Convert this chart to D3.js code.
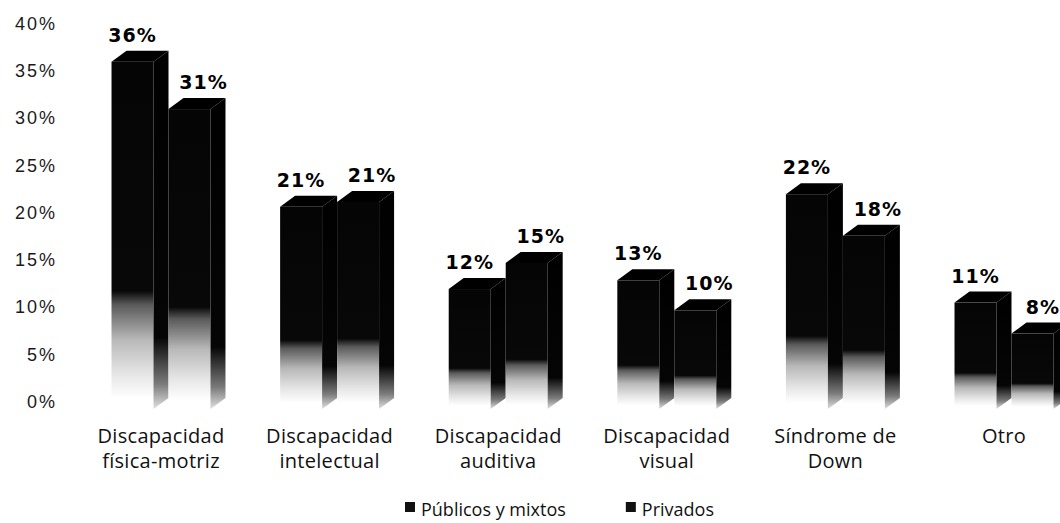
<!DOCTYPE html>
<html>
<head>
<meta charset="utf-8">
<script src="https://cdn.jsdelivr.net/npm/d3@7"></script>
<style>
  body { margin: 0; background: #fff; }
  svg { display: block; font-family: 'Open Sans', sans-serif; }
  .tick-label { font-size: 18px; letter-spacing: 2px; fill: #1a1a1a; }
  .cat-label { font-size: 20px; letter-spacing: 0.3px; fill: #111; }
  .value-label { font-family: 'DejaVu Sans', sans-serif; font-weight: bold; font-size: 19px; letter-spacing: 1px; fill: #000; }
  .legend-label { font-size: 18px; fill: #111; }
</style>
</head>
<body>
<svg id="chart" width="1060" height="523"></svg>
<script>
const categories = [
  ['Discapacidad', 'física-motriz'],
  ['Discapacidad', 'intelectual'],
  ['Discapacidad', 'auditiva'],
  ['Discapacidad', 'visual'],
  ['Síndrome de', 'Down'],
  ['Otro']
]
const seriesNames = ['Públicos y mixtos', 'Privados']
const publicos = [35.9, 20.9, 12.4, 13.3, 22.2, 11.0]
const privados = [31.0, 21.4, 15.1, 10.2, 17.9, 7.8]
const yTicks = [0, 5, 10, 15, 20, 25, 30, 35, 40]

// 3D depth of the columns (to the right and up)
const DX = 15
const DY = 11
const WIDTH = 1060

const svg = d3.select('#chart')

/**
 * Builds the vertical gradients used for the faces of the columns
 */
function appendGradients () {
  const defs = svg.append('defs')
  const front = defs.append('linearGradient').attr('id', 'frontGrad')
    .attr('x1', 0).attr('y1', 0).attr('x2', 0).attr('y2', 1)
  front.selectAll('stop')
    .data([[0, '#050505'], [0.66, '#080808'], [0.7, '#5a5a5a'], [0.8, '#b8b8b8'], [0.9, '#e6e6e6'], [0.97, '#fff']])
    .join('stop').attr('offset', d => d[0]).attr('stop-color', d => d[1])
  const side = defs.append('linearGradient').attr('id', 'sideGrad')
    .attr('x1', 0).attr('y1', 0).attr('x2', 0).attr('y2', 1)
  side.selectAll('stop')
    .data([[0, '#000'], [0.8, '#050505'], [0.93, '#7a7a7a'], [1, '#e0e0e0']])
    .join('stop').attr('offset', d => d[0]).attr('stop-color', d => d[1])
}

const x0 = d3.scaleBand()
  .domain(d3.range(categories.length))
  .range([76.7, 1088.3])
  .paddingInner(0.413)
  .paddingOuter(0.2065)

const x1 = d3.scaleBand()
  .domain(seriesNames)
  .range([0, x0.bandwidth() + DX])

const y = d3.scaleLinear().domain([0, 40]).range([409, 22])
// the tick labels sit on the back wall, slightly lower than the columns
const yWall = y.copy().range([401, 23])

/**
 * Draws the Y axis labels (no line, no ticks)
 */
function drawYAxis () {
  const g = svg.append('g')
    .attr('class', 'yaxis')
    .attr('transform', 'translate(57, 0)')
    .call(d3.axisLeft(yWall).tickValues(yTicks).tickFormat(d => d + '%').tickSize(0).tickPadding(0))
  g.select('.domain').remove()
  g.selectAll('text').attr('class', 'tick-label').attr('dy', '0.35em')
}

const bars = []
categories.forEach((c, i) => {
  bars.push({ cat: i, series: seriesNames[0], value: publicos[i] })
  bars.push({ cat: i, series: seriesNames[1], value: privados[i] })
})

/**
 * Draws every column as a front face, a top face and a side face
 */
function drawBars () {
  const w = x1.bandwidth() - DX
  const g = svg.append('g').attr('id', 'bars')
  const col = g.selectAll('g.col').data(bars).join('g').attr('class', 'col')

  col.append('rect')
    .attr('x', d => x0(d.cat) + x1(d.series))
    .attr('y', d => y(d.value))
    .attr('width', w)
    .attr('height', d => y(0) - y(d.value))
    .attr('fill', 'url(#frontGrad)')

  col.append('polygon')
    .attr('points', d => {
      const x = x0(d.cat) + x1(d.series)
      const t = y(d.value)
      return [[x + w, t], [x + w + DX, t - DY], [x + w + DX, y(0) - DY], [x + w, y(0)]].join(' ')
    })
    .attr('fill', 'url(#sideGrad)')

  col.append('polygon')
    .attr('points', d => {
      const x = x0(d.cat) + x1(d.series)
      const t = y(d.value)
      return [[x, t], [x + w, t], [x + w + DX, t - DY], [x + DX, t - DY]].join(' ')
    })
    .attr('fill', '#000')

  g.selectAll('text.value-label').data(bars).join('text')
    .attr('class', 'value-label')
    .attr('text-anchor', 'middle')
    .attr('x', d => Math.min(WIDTH - 17, x0(d.cat) + x1(d.series) + w / 2 + (d.series === seriesNames[1] ? 14 : 0)))
    .attr('y', d => y(d.value) - 20)
    .text(d => Math.round(d.value) + '%')
}

/**
 * Draws the two-line category labels under the groups
 */
function drawXLabels () {
  const t = svg.append('g').attr('class', 'xaxis')
    .selectAll('text').data(categories).join('text')
    .attr('class', 'cat-label')
    .attr('text-anchor', 'middle')
    .attr('x', (d, i) => x0(i) + x0.bandwidth() / 2)
    .attr('y', 443)
  t.selectAll('tspan').data(d => d).join('tspan')
    .attr('x', function () { return this.parentNode.getAttribute('x') })
    .attr('dy', (d, j) => j === 0 ? 0 : 25)
    .text(d => d)
}

/**
 * Draws the legend centred under the chart
 */
function drawLegend () {
  const g = svg.append('g').attr('class', 'legend')
  let x = 405
  seriesNames.forEach(name => {
    g.append('rect').attr('x', x).attr('y', 502).attr('width', 10).attr('height', 10).attr('fill', '#111')
    const label = g.append('text').attr('class', 'legend-label').attr('x', x + 16).attr('y', 516).text(name)
    x += 16 + label.node().getComputedTextLength() + 60
  })
}

appendGradients()
drawYAxis()
drawBars()
drawXLabels()
drawLegend()
</script>
</body>
</html>
